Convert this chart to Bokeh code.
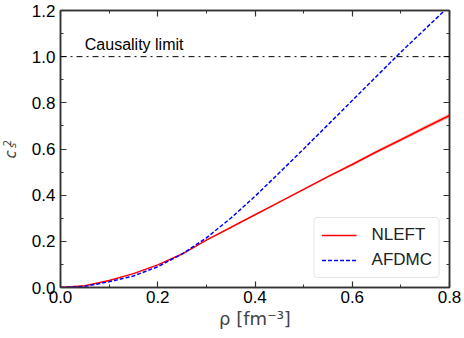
import numpy as np
from bokeh.plotting import figure
from bokeh.layouts import row
from bokeh.models import (LinearAxis, Range1d, Label, Legend, LegendItem, Span,
                          FixedTicker, ColumnDataSource, PrintfTickFormatter,
                          CustomJSTickFormatter)
from bokeh.embed import file_html
from bokeh.resources import INLINE

rho = [0.0, 0.05, 0.1, 0.15, 0.2, 0.25, 0.3, 0.35, 0.4, 0.45, 0.5, 0.55, 0.6, 0.65, 0.7, 0.75, 0.8]
nleft = [0.0, 0.008, 0.03, 0.06, 0.098, 0.145, 0.205, 0.26, 0.315, 0.37, 0.425, 0.48, 0.533, 0.588, 0.64, 0.693, 0.745]
nleft_err = [0.0, 0.0, 0.0, 0.0, 0.0005, 0.001, 0.0015, 0.002, 0.0025, 0.003, 0.004, 0.005, 0.006, 0.007, 0.008, 0.009, 0.01]
afdmc = [0.0, 0.005, 0.025, 0.05, 0.09, 0.145, 0.215, 0.30, 0.395, 0.497, 0.60, 0.705, 0.81, 0.915, 1.02, 1.12, 1.22]
x_ticks = [0.0, 0.2, 0.4, 0.6, 0.8]
y_ticks = [0.0, 0.2, 0.4, 0.6, 0.8, 1.0, 1.2]
causality = 1.0

FONT = "Liberation Sans"
LBL_W = 22

p = figure(width=464 - LBL_W, height=338, output_backend="svg", toolbar_location=None,
           x_range=Range1d(0, 0.8), y_range=Range1d(0, 1.2),
           min_border_left=60 - LBL_W, min_border_right=15, min_border_top=10, min_border_bottom=51,
           x_axis_type=None, y_axis_type=None)
p.xgrid.visible = False
p.ygrid.visible = False
p.outline_line_color = "#333333"
p.outline_line_width = 1.5
p.background_fill_color = "white"
p.border_fill_color = "white"

xt = FixedTicker(ticks=x_ticks, minor_ticks=[0.1 * i for i in range(9)])
yt = FixedTicker(ticks=y_ticks, minor_ticks=[0.1 * i for i in range(13)])

def style(ax, labels=True):
    ax.major_tick_in = 6
    ax.major_tick_out = 0
    ax.minor_tick_in = 3
    ax.minor_tick_out = 0
    ax.major_tick_line_color = "#333333"
    ax.minor_tick_line_color = "#333333"
    ax.major_tick_line_width = 1.2
    ax.minor_tick_line_width = 1.0
    ax.axis_line_color = "#333333"
    ax.axis_line_width = 1.5
    ax.major_label_text_font = FONT
    ax.major_label_text_font_size = "17px"
    ax.major_label_text_color = "black"
    ax.major_label_standoff = 4
    if labels:
        ax.formatter = PrintfTickFormatter(format="%.1f")
    else:
        ax.formatter = CustomJSTickFormatter(code="return ''")
        ax.major_label_standoff = 0

xb = LinearAxis(ticker=xt)
style(xb)
xb.major_label_standoff = 3
xb.axis_label = "ρ [fm⁻³]"
xb.axis_label_text_font = "DejaVu Sans"
xb.axis_label_text_font_style = "normal"
xb.axis_label_text_font_size = "18px"
xb.axis_label_standoff = 2
p.add_layout(xb, "below")

yl = LinearAxis(ticker=yt)
style(yl)
yl.major_label_standoff = 5
p.add_layout(yl, "left")

xa = LinearAxis(ticker=xt)
style(xa, labels=False)
p.add_layout(xa, "above")
yr = LinearAxis(ticker=yt)
style(yr, labels=False)
p.add_layout(yr, "right")

# causality limit
p.add_layout(Span(location=causality, dimension="width", line_color="black",
                  line_width=1, line_dash="dashdot"))
p.add_layout(Label(x=0.05, y=1.018, text="Causality limit", text_font=FONT,
                   text_font_size="16px", text_color="black"))

lo = [a - b for a, b in zip(nleft, nleft_err)]
hi = [a + b for a, b in zip(nleft, nleft_err)]
src = ColumnDataSource(dict(rho=rho, nleft=nleft, lo=lo, hi=hi, afdmc=afdmc))
p.varea(x="rho", y1="lo", y2="hi", source=src, fill_color="red", fill_alpha=0.25)
r1 = p.line("rho", "nleft", source=src, line_color="red", line_width=1.5)
r2 = p.line("rho", "afdmc", source=src, line_color="blue", line_width=1.5, line_dash="4 2")

legend = Legend(items=[LegendItem(label="NLEFT", renderers=[r1]),
                       LegendItem(label="AFDMC", renderers=[r2])],
                location="bottom_right")
legend.label_text_font = FONT
legend.label_text_font_size = "17px"
legend.label_text_color = "#222222"
legend.border_line_color = "#cccccc"
legend.border_line_width = 1
legend.border_radius = 4
legend.background_fill_alpha = 0.8
legend.glyph_width = 35
legend.glyph_height = 18
legend.label_height = 18
legend.spacing = 5
legend.padding = 7
legend.margin = 9
legend.label_standoff = 15
p.add_layout(legend, "center")

# narrow side figure holding the y axis label c_s^2
q = figure(width=LBL_W, height=338, output_backend="svg", toolbar_location=None,
           x_range=Range1d(0, LBL_W), y_range=Range1d(0, 338),
           min_border_left=0, min_border_right=0, min_border_top=0, min_border_bottom=0,
           x_axis_type=None, y_axis_type=None)
q.xgrid.visible = False
q.ygrid.visible = False
q.outline_line_color = None
q.border_fill_color = "white"
q.background_fill_color = "white"
q.add_layout(Label(x=10, y=133, x_units="screen", y_units="screen", text="c",
                   angle=np.pi / 2, text_font="DejaVu Sans", text_font_style="italic",
                   text_font_size="15px", text_align="center", text_baseline="middle"))
q.add_layout(Label(x=6, y=144.5, x_units="screen", y_units="screen", text="2",
                   angle=np.pi / 2, text_font="DejaVu Sans",
                   text_font_size="10px", text_align="center", text_baseline="middle"))
q.add_layout(Label(x=11.5, y=142, x_units="screen", y_units="screen", text="s",
                   angle=np.pi / 2, text_font="DejaVu Sans", text_font_style="italic",
                   text_font_size="10px", text_align="center", text_baseline="middle"))

layout = row(q, p, spacing=0)
open("out.html", "w").write(file_html(layout, INLINE))
